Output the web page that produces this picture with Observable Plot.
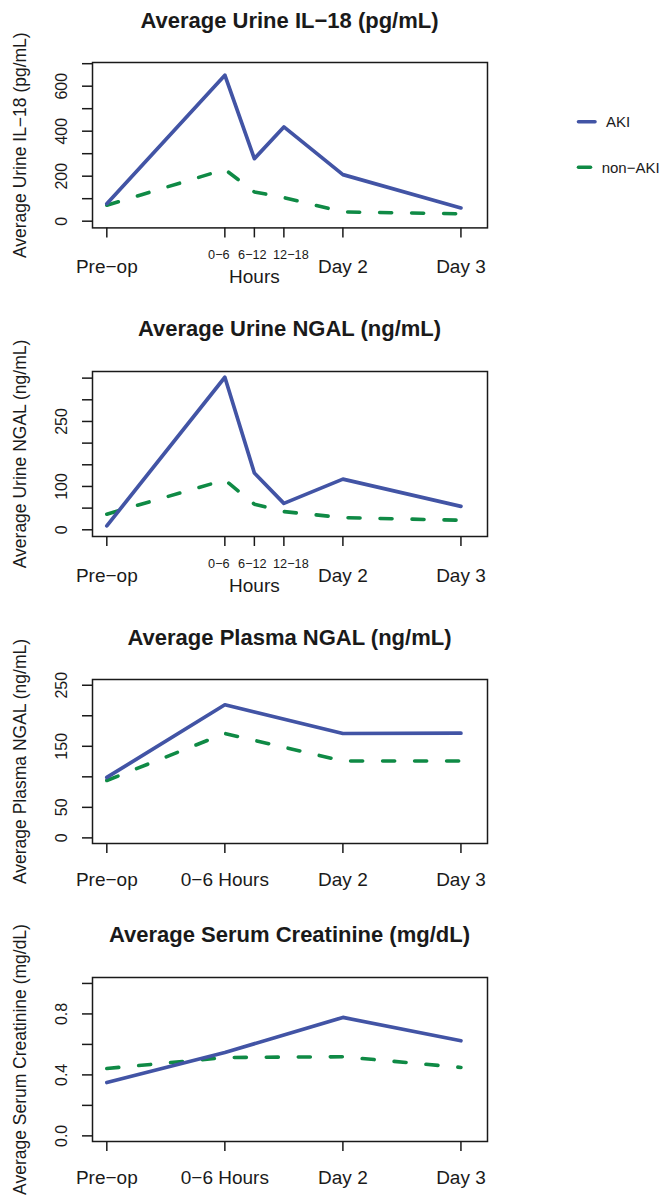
<!DOCTYPE html>
<html>
<head>
<meta charset="utf-8">
<script src="https://cdn.jsdelivr.net/npm/d3@7"></script>
<script src="https://cdn.jsdelivr.net/npm/@observablehq/plot@0.6"></script>
<style>
  html, body { margin: 0; padding: 0; background: #fff; }
  #root { position: relative; width: 663px; height: 1196px; overflow: hidden; font-family: "Liberation Sans", Arial, sans-serif; color: #1a1a1a; }
  .ptitle { position: absolute; left: 92px; width: 395px; text-align: center; font-weight: bold; font-size: 22px; line-height: 22px; white-space: nowrap; }
  .panel { position: absolute; left: 0; }
</style>
</head>
<body>
<div id="root"></div>
<script>
// ---------------- data ----------------
const urineLabels = ["Pre−op", "0−6", "6−12", "12−18", "Day 2", "Day 3"];
const urineTime = [0, 4, 5, 6, 8, 12];
const plasmaLabels = ["Pre−op", "0−6 Hours", "Day 2", "Day 3"];
const plasmaTime = [0, 4, 8, 12];

const il18Aki = [78, 649, 278, 419, 207, 59];
const il18Non = [71, 230, 130, 105, 41, 33];
const uNgalAki = [9, 352, 131, 61, 117, 54];
const uNgalNon = [36, 115, 59, 42, 28, 22];
const pNgalAki = [99, 218, 171, 171.5];
const pNgalNon = [94, 171, 126, 126];
const scrAki = [0.35, 0.547, 0.777, 0.624];
const scrNon = [0.442, 0.514, 0.519, 0.449];

const il18Ticks = [0, 100, 200, 300, 400, 500, 600, 700];
const il18TickLabels = [0, 200, 400, 600];
const uNgalTicks = [0, 50, 100, 150, 200, 250, 300, 350];
const uNgalTickLabels = [0, 100, 250];
const pNgalTicks = [0, 50, 100, 150, 200, 250];
const pNgalTickLabels = [0, 50, 150, 250];
const scrTicks = [0, 0.2, 0.4, 0.6, 0.8, 1.0];
const scrTickLabels = [0, 0.4, 0.8];

const seriesNames = ["AKI", "non−AKI"];
const BLUE = "#4254a5";
const GREEN = "#0f8a45";
const INK = "#1a1a1a";
const DASH = "12,20";

// ---------------- layout ----------------
const root = document.getElementById("root");
const FONT = '"Liberation Sans", Arial, sans-serif';

function makePanel(cfg) {
  const mt = 50;
  const boxH = cfg.boxBottom - cfg.boxTop;
  const mb = cfg.mb;
  const H = mt + boxH + mb;
  const aki = cfg.time.map((t, i) => ({t, v: cfg.aki[i]}));
  const non = cfg.time.map((t, i) => ({t, v: cfg.non[i]}));

  const marks = [
    Plot.frame({stroke: INK, strokeWidth: 1.5}),
    Plot.axisX({ticks: cfg.time, tickSize: 10, tickFormat: () => "", label: null, stroke: INK, strokeWidth: 1.5}),
    Plot.axisY({ticks: cfg.yTicks, tickSize: 10, tickFormat: () => "", label: null, stroke: INK, strokeWidth: 1.5}),
    Plot.text(cfg.yTickLabels, {y: d => d, text: cfg.yFmt, frameAnchor: "left", dx: -30.3, rotate: -90,
      fontSize: 16, fill: INK, textAnchor: "middle", lineAnchor: "middle"}),
    Plot.text([cfg.yTitle], {frameAnchor: "left", dx: -72, rotate: -90, fontSize: 17.5, fill: INK,
      textAnchor: "middle", lineAnchor: "middle"}),
    Plot.line(non, {x: "t", y: "v", stroke: GREEN, strokeWidth: 3.6, strokeDasharray: DASH,
      strokeLinecap: "round", strokeLinejoin: "round"}),
    Plot.line(aki, {x: "t", y: "v", stroke: BLUE, strokeWidth: 3.7,
      strokeLinecap: "round", strokeLinejoin: "round"})
  ];

  if (cfg.urine) {
    const big = [0, 4, 5].map(i => ({t: cfg.time[[0, 4, 5][[0,4,5].indexOf(i)]], s: cfg.labels[i]}));
    marks.push(Plot.text(big, {x: "t", text: "s", frameAnchor: "bottom", dy: 39, fontSize: 19, fill: INK, textAnchor: "middle", lineAnchor: "middle"}));
    const smallDx = [-6, -2, 7];
    [1, 2, 3].forEach((i, k) => {
      marks.push(Plot.text([{t: cfg.time[i], s: cfg.labels[i]}], {x: "t", text: "s", frameAnchor: "bottom", dy: 27.5, dx: smallDx[k],
        fontSize: 12.7, fill: INK, textAnchor: "middle", lineAnchor: "middle"}));
    });
    marks.push(Plot.text([{t: cfg.time[2], s: "Hours"}], {x: "t", text: "s", frameAnchor: "bottom", dy: 49, fontSize: 19, fill: INK, textAnchor: "middle", lineAnchor: "middle"}));
  } else {
    const lab = cfg.time.map((t, i) => ({t, s: cfg.labels[i]}));
    marks.push(Plot.text(lab, {x: "t", text: "s", frameAnchor: "bottom", dy: 36.5, fontSize: 19, fill: INK, textAnchor: "middle", lineAnchor: "middle"}));
  }

  const svg = Plot.plot({
    width: 663,
    height: H,
    marginLeft: 92,
    marginRight: 176,
    marginTop: mt,
    marginBottom: mb,
    style: {background: "transparent", overflow: "visible", fontFamily: FONT},
    x: {domain: [-0.485, 12.9]},
    y: {domain: cfg.yDomain},
    marks
  });
  const wrap = document.createElement("div");
  wrap.className = "panel";
  wrap.style.top = (cfg.boxTop - mt) + "px";
  wrap.appendChild(svg);
  root.appendChild(wrap);

  const title = document.createElement("div");
  title.className = "ptitle";
  title.textContent = cfg.title;
  title.style.top = (cfg.boxTop - 41.7 - 11) + "px";
  root.appendChild(title);
}

const intFmt = d => String(d);
const decFmt = d => d.toFixed(1);

makePanel({
  title: "Average Urine IL−18 (pg/mL)", yTitle: "Average Urine IL−18 (pg/mL)",
  boxTop: 62.3, boxBottom: 227.7, mb: 65, urine: true,
  time: urineTime, labels: urineLabels, aki: il18Aki, non: il18Non,
  yDomain: [-29.8, 705.3], yTicks: il18Ticks, yTickLabels: il18TickLabels, yFmt: intFmt
});
makePanel({
  title: "Average Urine NGAL (ng/mL)", yTitle: "Average Urine NGAL (ng/mL)",
  boxTop: 370.7, boxBottom: 535.7, mb: 65, urine: true,
  time: urineTime, labels: urineLabels, aki: uNgalAki, non: uNgalNon,
  yDomain: [-15.5, 365.3], yTicks: uNgalTicks, yTickLabels: uNgalTickLabels, yFmt: intFmt
});
makePanel({
  title: "Average Plasma NGAL (ng/mL)", yTitle: "Average Plasma NGAL (ng/mL)",
  boxTop: 679.3, boxBottom: 843.3, mb: 65, urine: false,
  time: plasmaTime, labels: plasmaLabels, aki: pNgalAki, non: pNgalNon,
  yDomain: [-9.2, 259.4], yTicks: pNgalTicks, yTickLabels: pNgalTickLabels, yFmt: intFmt
});
makePanel({
  title: "Average Serum Creatinine (mg/dL)", yTitle: "Average Serum Creatinine (mg/dL)",
  boxTop: 976.7, boxBottom: 1140.7, mb: 55.3, urine: false,
  time: plasmaTime, labels: plasmaLabels, aki: scrAki, non: scrNon,
  yDomain: [-0.037, 1.039], yTicks: scrTicks, yTickLabels: scrTickLabels, yFmt: decFmt
});

// ---------------- legend ----------------
const leg = d3.create("svg")
  .attr("width", 663).attr("height", 200)
  .style("position", "absolute").style("left", "0px").style("top", "0px")
  .style("overflow", "visible");
const legItems = [
  {name: seriesNames[0], color: BLUE, dash: null, y: 121.7, tx: 606},
  {name: seriesNames[1], color: GREEN, dash: DASH, y: 167.3, tx: 601.7}
];
legItems.forEach(it => {
  const ln = leg.append("line")
    .attr("x1", 578.5).attr("x2", 595).attr("y1", it.y).attr("y2", it.y)
    .attr("stroke", it.color).attr("stroke-width", 3.6).attr("stroke-linecap", "round");
  if (it.dash) ln.attr("stroke-dasharray", it.dash).attr("x2", 600);
  leg.append("text")
    .attr("x", it.tx).attr("y", it.y).attr("dy", "0.36em")
    .attr("font-family", FONT).attr("font-size", 15).attr("fill", INK)
    .text(it.name);
});
root.appendChild(leg.node());
</script>
</body>
</html>
